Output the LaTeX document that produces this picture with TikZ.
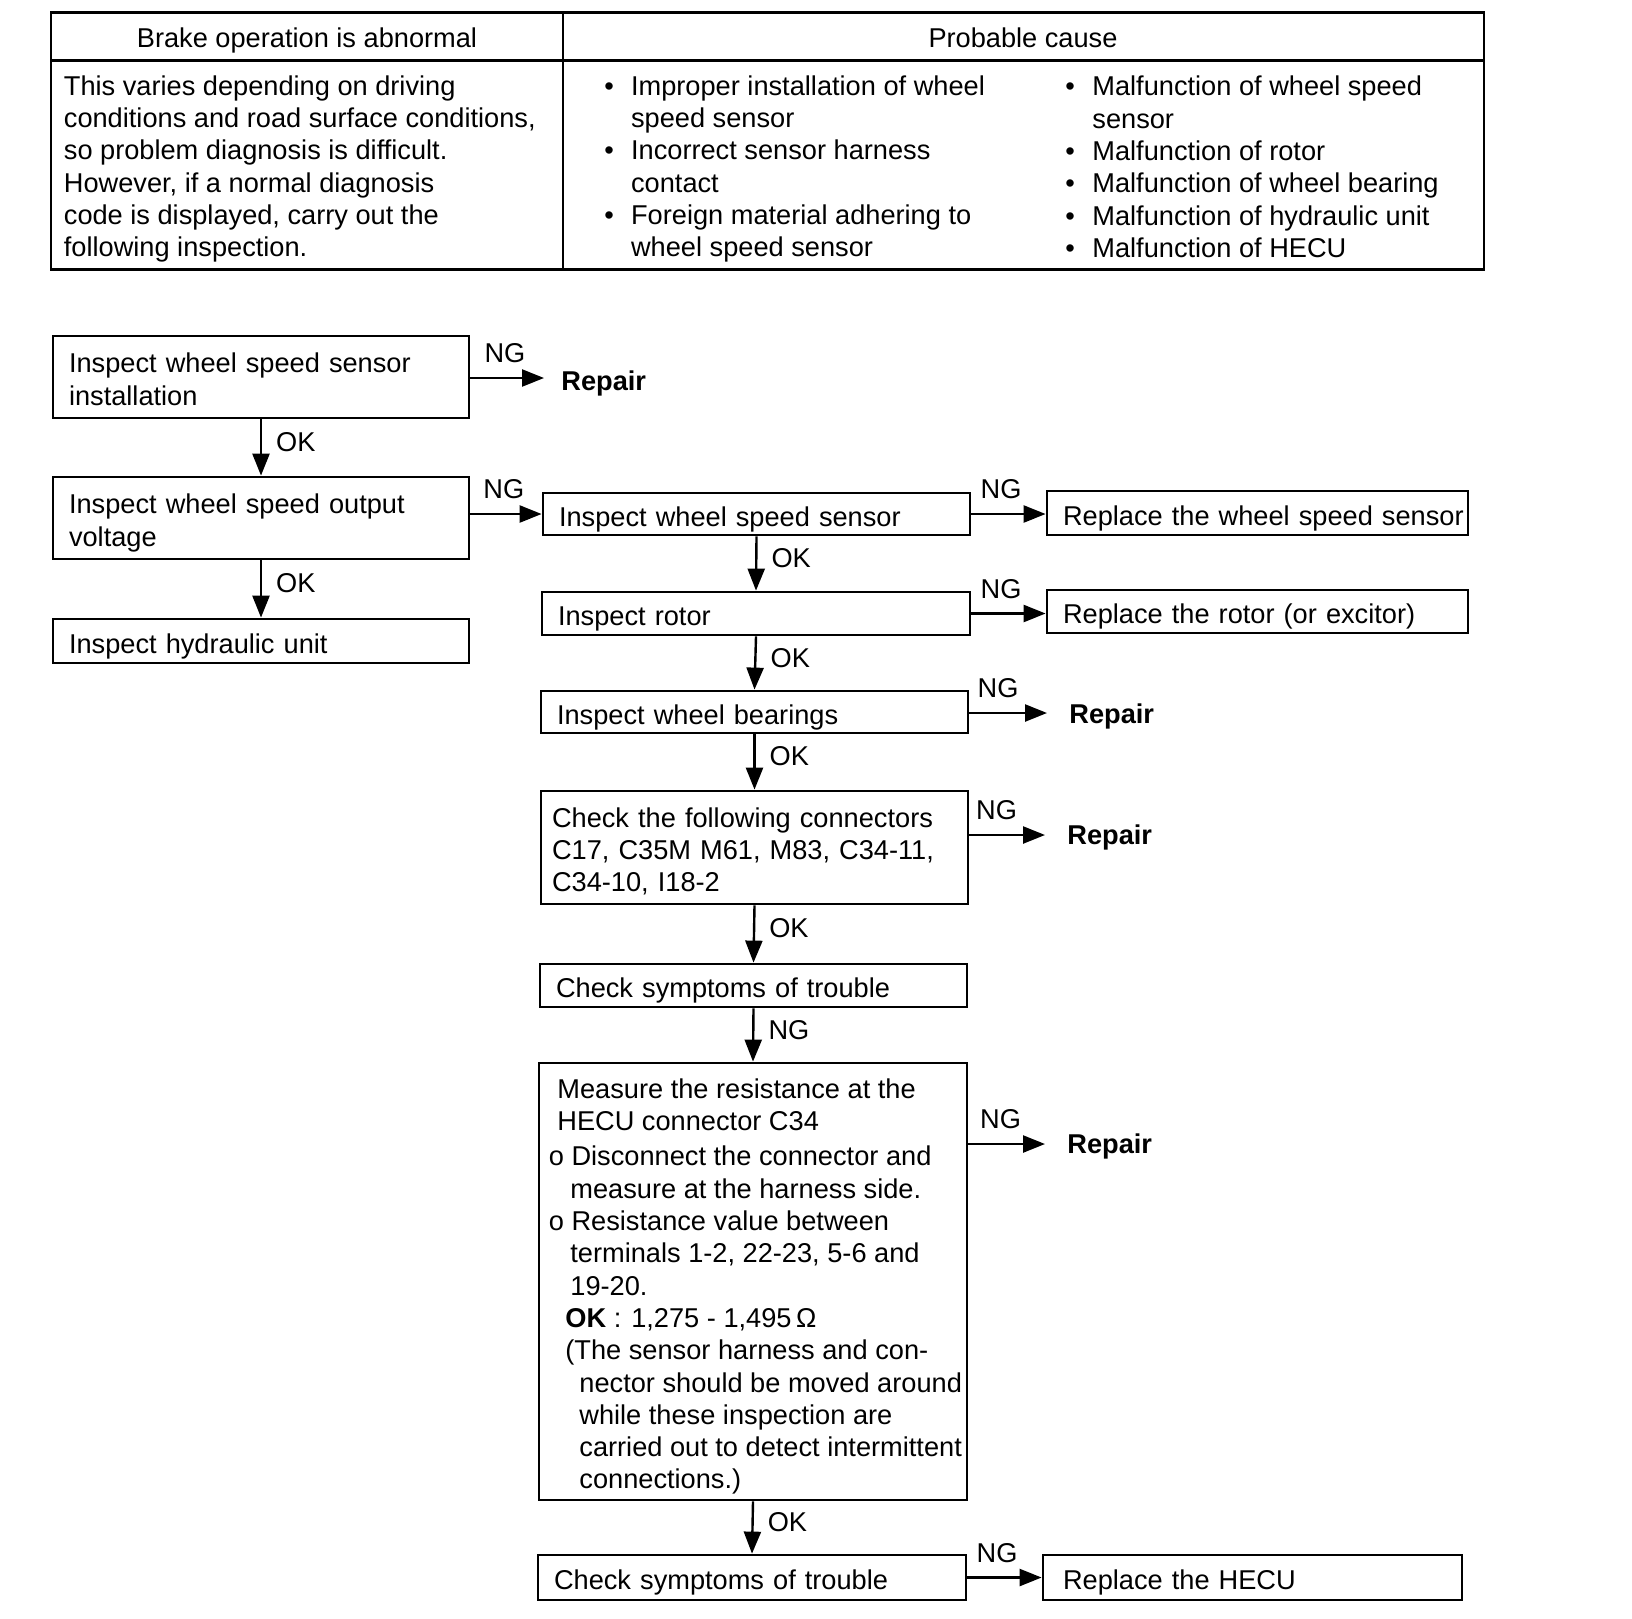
\documentclass[tikz,border=0pt]{standalone}
\usepackage{fontspec}
\setmainfont{Liberation Sans}
\usetikzlibrary{arrows.meta,calc}
\newcommand\fs{\fontsize{13.6pt}{16.15pt}\selectfont}
\tikzset{
  box/.style={draw, line width=1.4pt, inner xsep=8pt, inner ysep=0pt, align=left, font=\fs, anchor=center,
    execute at begin node={\rule{0pt}{15pt}}, execute at end node={\rule[-3pt]{0pt}{3pt}}},
  arr/.style={line width=1.2pt, -{Triangle[length=11pt,width=8.5pt]}},
  lab/.style={font=\fs, inner sep=0pt},
  tbl/.style={line width=1.3pt},
  txt/.style={font=\fs, inner sep=0pt, align=left, anchor=west},
  rep/.style={font=\fs\bfseries, inner sep=0pt, anchor=west},
  ng/.style={lab, above, pos=0.4, yshift=7pt},
  ok/.style={lab, right, pos=0.4, xshift=7pt}
}
\begin{document}
\begin{tikzpicture}[x=0.5pt,y=-0.5pt]
\useasboundingbox (0,0) rectangle (1632,1618);
% ---- table ----
\draw[tbl] (51,12.5) rectangle (1484,269.6);
\draw[tbl] (51,60.4) -- (1484,60.4);
\draw[tbl] (563,12.5) -- (563,269.6);
\node[lab, anchor=base] (h1) at (307,47.4) {Brake operation is abnormal};
\node[lab, anchor=base] (h2) at (1023,47.4) {Probable cause};
\node[txt] (t1) at (63.5,169) {This varies depending on driving\\conditions and road surface conditions,\\so problem diagnosis is difficult.\\However, if a normal diagnosis\\code is displayed, carry out the\\following inspection.};
\node[txt] (t2) at (604,169) {\makebox[13.35pt][l]{•}Improper installation of wheel\\\hspace*{13.35pt}speed sensor\\\makebox[13.35pt][l]{•}Incorrect sensor harness\\\hspace*{13.35pt}contact\\\makebox[13.35pt][l]{•}Foreign material adhering to\\\hspace*{13.35pt}wheel speed sensor};
\node[txt] (t3) at (1065,167) {\makebox[13.5pt][l]{•}Malfunction of wheel speed\\\hspace*{13.5pt}sensor\\\makebox[13.5pt][l]{•}Malfunction of rotor\\\makebox[13.5pt][l]{•}Malfunction of wheel bearing\\\makebox[13.5pt][l]{•}Malfunction of hydraulic unit\\\makebox[13.5pt][l]{•}Malfunction of HECU};
% ---- left column ----
\node[box, text width=192pt, minimum height=41pt] (b1) at (261,377) {Inspect wheel speed sensor\\installation};
\node[box, text width=192pt, minimum height=41pt] (b2) at (261,518) {Inspect wheel speed output\\voltage};
\node[box, text width=192pt, minimum height=22pt] (b3) at (261,641) {Inspect hydraulic unit};
\node[rep] (r1) at (561,383) {Repair};
\coordinate (e1) at (544,378);
% ---- right column ----
\node[box, text width=197.5pt, minimum height=21pt] (b4) at (756.5,514) {Inspect wheel speed sensor};
\node[box, text width=194.5pt, minimum height=22pt] (b5) at (1257.5,513) {\mbox{Replace the wheel speed sensor}};
\node[box, text width=198pt, minimum height=21.5pt] (b6) at (756,613.5) {Inspect rotor};
\node[box, text width=194.5pt, minimum height=21.5pt] (b7) at (1257.5,611.5) {Replace the rotor (or excitor)};
\node[box, text width=197.5pt, minimum height=21pt] (b8) at (754.5,712) {Inspect wheel bearings};
\node[rep] (r2) at (1069,716) {Repair};
\coordinate (e2) at (1047,713);
\node[box, inner xsep=5.5pt, text width=202.5pt, minimum height=56.5pt] (b9) at (754.5,847.5) {Check the following connectors\\C17, C35M M61, M83, C34-11,\\C34-10, I18-2};
\node[rep] (r3) at (1067,837) {Repair};
\coordinate (e3) at (1045,835);
\node[box, text width=197.5pt, minimum height=21.5pt] (b10) at (753.5,985.5) {Check symptoms of trouble};
\node[draw, line width=1.4pt, inner sep=0pt, minimum width=214pt, minimum height=218.5pt] (b11) at (753,1281.5) {};
\node[txt] (b11t) at (548.5,1286.5) {\hspace*{4.25pt}Measure the resistance at the\\
\hspace*{4.25pt}HECU connector C34\\[1.6pt]
o Disconnect the connector and\\
\hspace*{10.75pt}measure at the harness side.\\
o Resistance value between\\
\hspace*{10.75pt}terminals 1-2, 22-23, 5-6 and\\
\hspace*{10.75pt}19-20.\\
\hspace*{8.25pt}\textbf{OK} :\hspace{5pt}1,275 - 1,495\,Ω\\
\hspace*{8.25pt}(The sensor harness and con-\\
\hspace*{15.25pt}nector should be moved around\\
\hspace*{15.25pt}while these inspection are\\
\hspace*{15.25pt}carried out to detect intermittent\\
\hspace*{15.25pt}connections.)};
\node[rep] (r4) at (1067,1146) {Repair};
\coordinate (e4) at (1045,1144);
\node[box, text width=198pt, minimum height=22.5pt] (b12) at (752,1577.5) {Check symptoms of trouble};
\node[box, inner xsep=10pt, text width=189.5pt, minimum height=22.5pt] (b13) at (1252.5,1577.5) {Replace the HECU};
% ---- connectors ----
\draw[arr] (b1.east |- e1) -- (e1) node[ng, pos=0.47]{NG};
\draw[arr] (b1.south) -- (b2.north) node[ok]{OK};
\draw[arr] (b2.east |- b4.west) -- (b4.west) node[ng, pos=0.47]{NG};
\draw[arr] (b2.south) -- (b3.north) node[ok]{OK};
\draw[arr] (b4.east) -- (b4.east -| b5.west) node[ng]{NG};
\draw[arr] (b4.south) -- (b6.north) node[ok]{OK};
\draw[arr] (b6.east) -- (b6.east -| b7.west) node[ng]{NG};
\draw[arr] (b6.south) -- (b8.north) node[ok]{OK};
\draw[arr] (b8.east |- e2) -- (e2) node[ng, pos=0.37]{NG};
\draw[arr] (b8.south) -- (b9.north) node[ok]{OK};
\draw[arr] (b9.east |- e3) -- (e3) node[ng, pos=0.36]{NG};
\draw[arr] (b9.south) -- (b10.north) node[ok]{OK};
\draw[arr] (b10.south) -- (b11.north) node[ok]{NG};
\draw[arr] (b11.east |- e4) -- (e4) node[ng, pos=0.42]{NG};
\draw[arr] (b11.south) -- (b12.north) node[ok]{OK};
\draw[arr] (b12.east) -- (b13.west) node[ng]{NG};
\end{tikzpicture}
\end{document}
